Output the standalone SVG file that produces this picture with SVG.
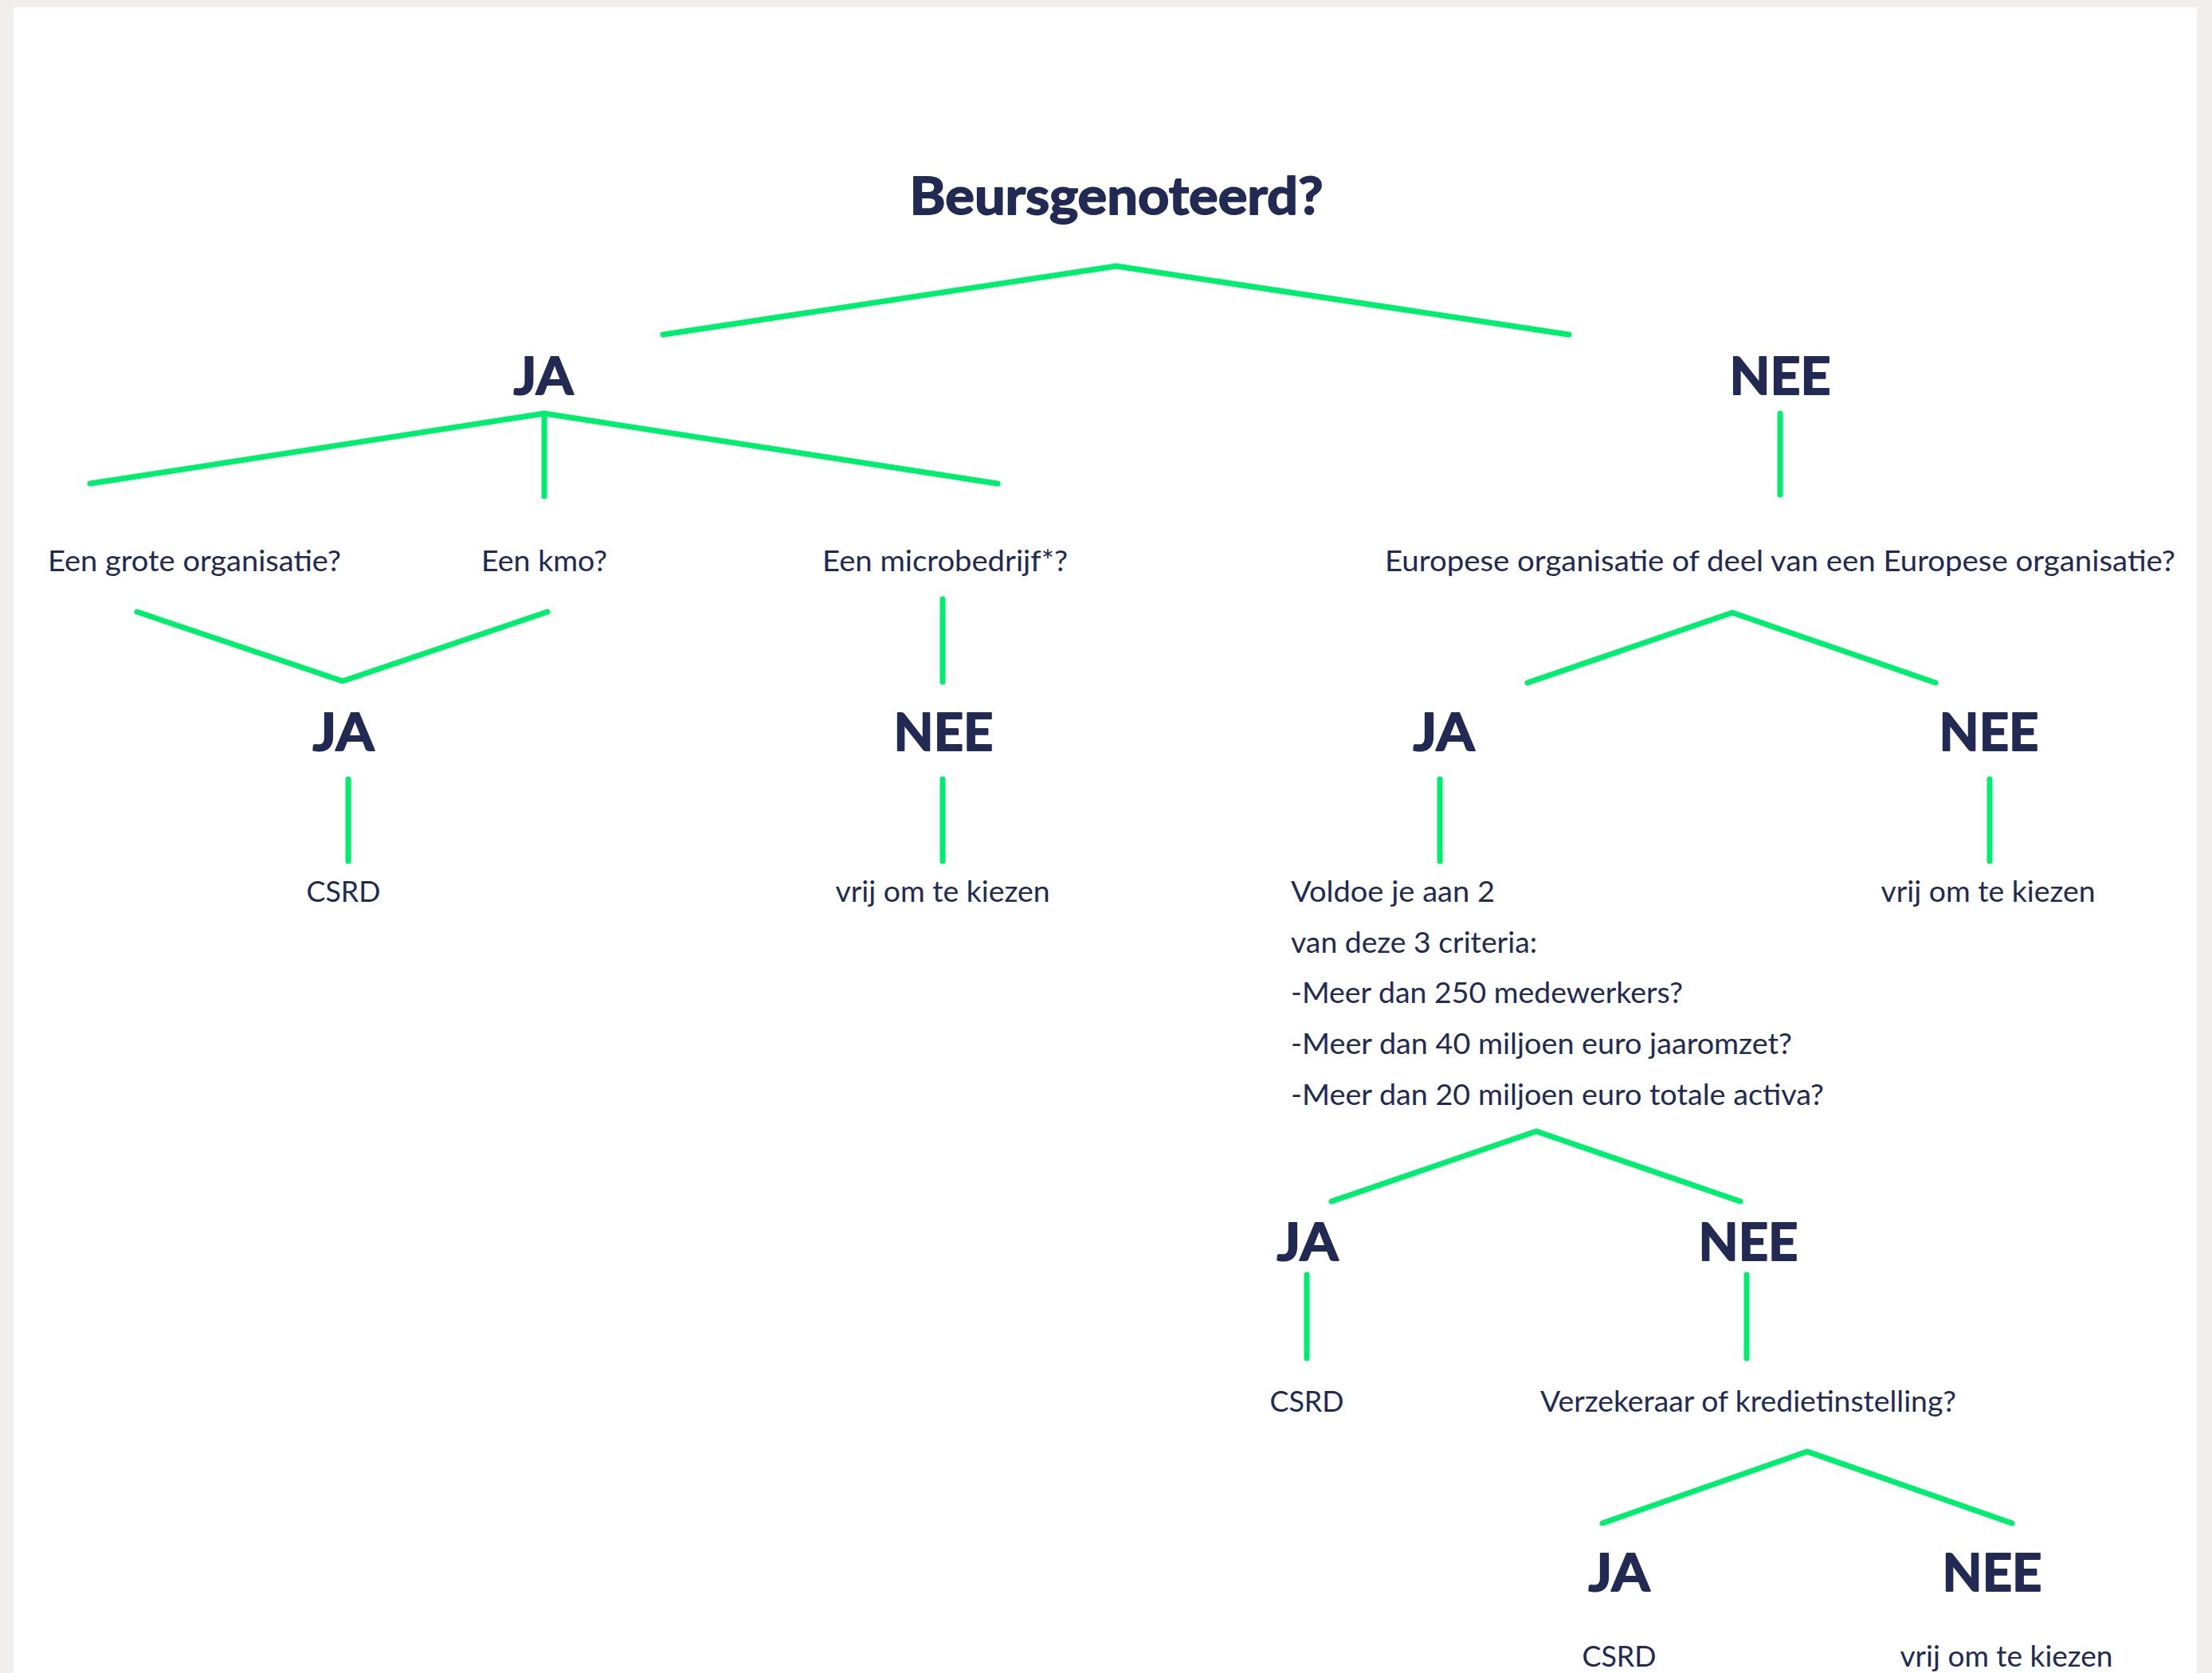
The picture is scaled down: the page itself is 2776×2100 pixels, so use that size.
<svg xmlns="http://www.w3.org/2000/svg" width="2776" height="2100" viewBox="0 0 2776 2100">
<style>
.b{font-family:Lato,"Noto Sans","Liberation Sans",sans-serif;font-weight:700;font-size:65px;fill:#222a54;stroke:#222a54;stroke-width:1.8;stroke-linejoin:round;text-anchor:middle}
.r{font-family:Lato,"Noto Sans","Liberation Sans",sans-serif;font-weight:400;font-size:36px;fill:#222a54;text-anchor:middle}
.l{text-anchor:start}
#connectors polyline,#connectors line{fill:none;stroke:#00ee6e;stroke-width:7;stroke-linecap:round;stroke-linejoin:round}
</style>
<rect x="0" y="0" width="2776" height="2100" fill="#f1efeb"/>
<rect x="17" y="9" width="2740" height="2100" fill="#ffffff"/>
<g id="connectors">
<polyline points="832,420 1401,334 1969,420"/>
<polyline points="113,607 683,519 1252,607"/>
<line x1="683" y1="519" x2="683" y2="623"/>
<line x1="2234" y1="519" x2="2234" y2="621"/>
<polyline points="172,768 430,855 687,768"/>
<line x1="1183" y1="752" x2="1183" y2="856"/>
<polyline points="1917,857 2174,769 2429,857"/>
<line x1="437" y1="978" x2="437" y2="1081"/>
<line x1="1183" y1="978" x2="1183" y2="1081"/>
<line x1="1807" y1="978" x2="1807" y2="1081"/>
<line x1="2497" y1="978" x2="2497" y2="1081"/>
<polyline points="1671,1508 1928,1420 2184,1508"/>
<line x1="1640" y1="1600" x2="1640" y2="1705"/>
<line x1="2192" y1="1600" x2="2192" y2="1705"/>
<polyline points="2011,1912 2268,1822 2525,1912"/>
</g>
<g id="n-root"><text class="b" x="1401" y="269" textLength="519" lengthAdjust="spacingAndGlyphs">Beursgenoteerd?</text></g>
<g id="n-ja1"><text class="b" x="682" y="495" textLength="75" lengthAdjust="spacingAndGlyphs">JA</text></g>
<g id="n-nee1"><text class="b" x="2234" y="495" textLength="127" lengthAdjust="spacingAndGlyphs">NEE</text></g>
<g id="n-groot"><text class="r" x="244" y="717" textLength="368" lengthAdjust="spacingAndGlyphs">Een grote organisatie?</text></g>
<g id="n-kmo"><text class="r" x="683" y="717" textLength="158" lengthAdjust="spacingAndGlyphs">Een kmo?</text></g>
<g id="n-micro"><text class="r" x="1186" y="717" textLength="308" lengthAdjust="spacingAndGlyphs">Een microbedrijf*?</text></g>
<g id="n-europa"><text class="r" x="2234" y="717" textLength="992" lengthAdjust="spacingAndGlyphs">Europese organisatie of deel van een Europese organisatie?</text></g>
<g id="n-ja2"><text class="b" x="431" y="942" textLength="77" lengthAdjust="spacingAndGlyphs">JA</text></g>
<g id="n-nee2"><text class="b" x="1184" y="942" textLength="125" lengthAdjust="spacingAndGlyphs">NEE</text></g>
<g id="n-ja3"><text class="b" x="1812" y="942" textLength="77" lengthAdjust="spacingAndGlyphs">JA</text></g>
<g id="n-nee3"><text class="b" x="2496" y="942" textLength="125" lengthAdjust="spacingAndGlyphs">NEE</text></g>
<g id="n-csrd1"><text class="r" x="431" y="1132" textLength="93" lengthAdjust="spacingAndGlyphs">CSRD</text></g>
<g id="n-vrij1"><text class="r" x="1183" y="1132" textLength="269" lengthAdjust="spacingAndGlyphs">vrij om te kiezen</text></g>
<g id="n-criteria">
<text class="r l" x="1620" y="1132" textLength="256" lengthAdjust="spacingAndGlyphs">Voldoe je aan 2</text>
<text class="r l" x="1620" y="1196" textLength="309" lengthAdjust="spacingAndGlyphs">van deze 3 criteria:</text>
<text class="r l" x="1620" y="1259" textLength="492" lengthAdjust="spacingAndGlyphs">-Meer dan 250 medewerkers?</text>
<text class="r l" x="1620" y="1323" textLength="629" lengthAdjust="spacingAndGlyphs">-Meer dan 40 miljoen euro jaaromzet?</text>
<text class="r l" x="1620" y="1387" textLength="669" lengthAdjust="spacingAndGlyphs">-Meer dan 20 miljoen euro totale activa?</text>
</g>
<g id="n-vrij2"><text class="r" x="2495" y="1132" textLength="269" lengthAdjust="spacingAndGlyphs">vrij om te kiezen</text></g>
<g id="n-ja4"><text class="b" x="1641" y="1582" textLength="77" lengthAdjust="spacingAndGlyphs">JA</text></g>
<g id="n-nee4"><text class="b" x="2194" y="1582" textLength="125" lengthAdjust="spacingAndGlyphs">NEE</text></g>
<g id="n-csrd2"><text class="r" x="1640" y="1772" textLength="93" lengthAdjust="spacingAndGlyphs">CSRD</text></g>
<g id="n-verz"><text class="r" x="2194" y="1772" textLength="522" lengthAdjust="spacingAndGlyphs">Verzekeraar of kredietinstelling?</text></g>
<g id="n-ja5"><text class="b" x="2032" y="1997" textLength="77" lengthAdjust="spacingAndGlyphs">JA</text></g>
<g id="n-nee5"><text class="b" x="2500" y="1997" textLength="125" lengthAdjust="spacingAndGlyphs">NEE</text></g>
<g id="n-csrd3"><text class="r" x="2032" y="2092" textLength="93" lengthAdjust="spacingAndGlyphs">CSRD</text></g>
<g id="n-vrij3"><text class="r" x="2518" y="2092" textLength="267" lengthAdjust="spacingAndGlyphs">vrij om te kiezen</text></g>
</svg>
